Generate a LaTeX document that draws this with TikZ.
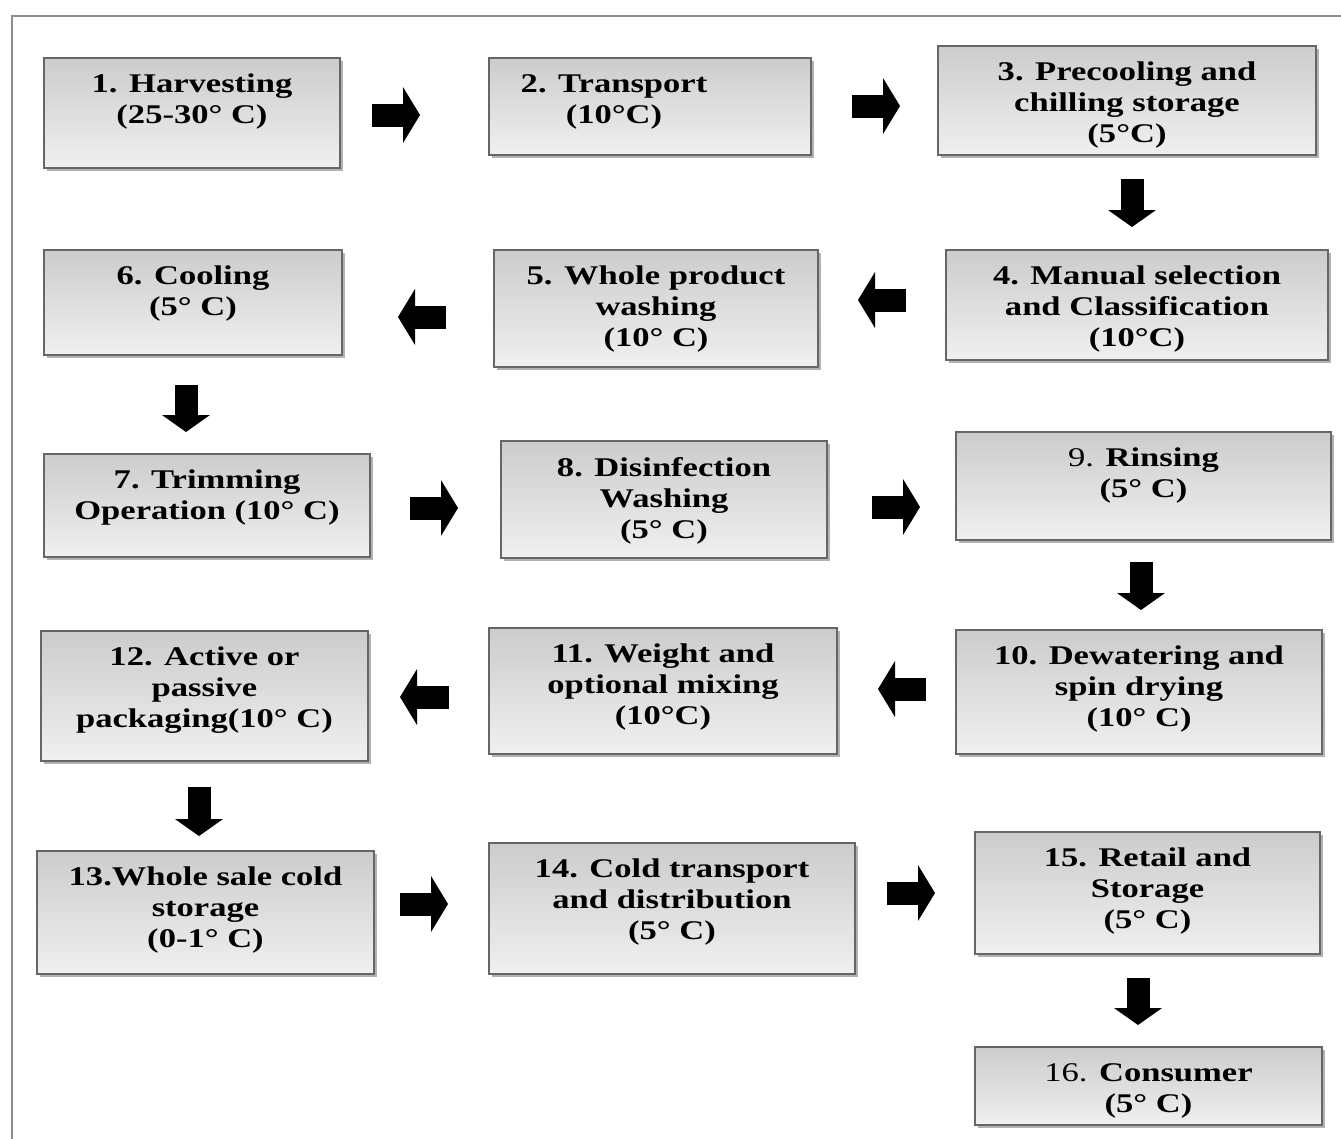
\documentclass[tikz,border=0pt]{standalone}
\usepackage{fontspec}
\setmainfont{Liberation Serif}[FakeStretch=1.28]
\usetikzlibrary{arrows.meta,shadows,calc}
\tikzset{
  boxsty/.style={draw=black!60, line width=1.8pt, top color=black!20, bottom color=black!6,
    inner sep=0pt, outer sep=0pt,
    general shadow={shadow xshift=3pt, shadow yshift=-3pt, fill=black!30}},
  txt/.style={inner sep=0pt, align=center, text=black,
    font=\fontsize{27pt}{31pt}\selectfont\bfseries},
  harrow/.style={draw=black, line width=23pt, -{Triangle[length=17pt,width=56pt,line width=0pt]}},
  varrow/.style={draw=black, line width=23pt, -{Triangle[length=17pt,width=48pt,line width=0pt]}},
  framesty/.style={draw=black!45, line width=1.5pt}
}
\newcommand\flowbox[7][0]{%
  \node[boxsty, minimum width={(#5-#3)*1pt}, minimum height={(#6-#4)*1pt}]
    (b#2) at ({(#3+#5)/2},{(#4+#6)/2}) {};
  \node[txt, anchor=north] (t#2) at ($(b#2.north)+(#1,16)$) {#7};
}
\begin{document}
\begin{tikzpicture}[x=1pt,y=-1pt]
\useasboundingbox (0,0) rectangle (1341,1138);
\fill[white] (0,0) rectangle (1341,1138);
\draw[framesty] (12,1140) -- (12,16) -- (1343,16);

\flowbox{1}{44}{58}{340}{168}{1. Harvesting\\(25-30° C)}
\flowbox[-36]{2}{489}{58}{811}{155}{2. Transport\\(10°C)}
\flowbox{3}{938}{46}{1316}{155}{3. Precooling and\\chilling storage\\(5°C)}
\flowbox{4}{946}{250}{1328}{360}{4. Manual selection\\and Classification\\(10°C)}
\flowbox{5}{494}{250}{818}{367}{5. Whole product\\washing\\(10° C)}
\flowbox{6}{44}{250}{342}{355}{6. Cooling\\(5° C)}
\flowbox{7}{44}{454}{370}{557}{7. Trimming\\Operation (10° C)}
\flowbox{8}{501}{441}{827}{558}{8. Disinfection\\Washing\\(5° C)}
\flowbox{9}{956}{432}{1331}{540}{{\mdseries 9.} Rinsing\\(5° C)}
\flowbox{10}{956}{630}{1322}{754}{10. Dewatering and\\spin drying\\(10° C)}
\flowbox{11}{489}{628}{837}{754}{11. Weight and\\optional mixing\\(10°C)}
\flowbox{12}{41}{631}{368}{761}{12. Active or\\passive\\packaging(10° C)}
\flowbox{13}{37}{851}{374}{974}{13.Whole sale cold\\storage\\(0-1° C)}
\flowbox{14}{489}{843}{855}{974}{14. Cold transport\\and distribution\\(5° C)}
\flowbox{15}{975}{832}{1320}{954}{15. Retail and\\Storage\\(5° C)}
\flowbox{16}{975}{1047}{1322}{1125}{{\mdseries 16.} Consumer\\(5° C)}

% arrow end points
\coordinate (a1s) at (372,115);  \coordinate (a1e) at (420,115);
\coordinate (a2s) at (852,106);  \coordinate (a2e) at (900,106);
\coordinate (a3s) at (1132,179); \coordinate (a3e) at (1132,227);
\coordinate (a4s) at (906,300);  \coordinate (a4e) at (858,300);
\coordinate (a5s) at (446,317);  \coordinate (a5e) at (398,317);
\coordinate (a6s) at (186,385);  \coordinate (a6e) at (186,432);
\coordinate (a7s) at (410,508);  \coordinate (a7e) at (458,508);
\coordinate (a8s) at (872,507);  \coordinate (a8e) at (920,507);
\coordinate (a9s) at (1141,562); \coordinate (a9e) at (1141,610);
\coordinate (a10s) at (926,689); \coordinate (a10e) at (878,689);
\coordinate (a11s) at (449,697); \coordinate (a11e) at (400,697);
\coordinate (a12s) at (199,787); \coordinate (a12e) at (199,836);
\coordinate (a13s) at (400,904); \coordinate (a13e) at (448,904);
\coordinate (a14s) at (887,893); \coordinate (a14e) at (935,893);
\coordinate (a15s) at (1138,978); \coordinate (a15e) at (1138,1025);

\draw[harrow] (a1s) -- (a1e);
\draw[harrow] (a2s) -- (a2e);
\draw[varrow] (a3s) -- (a3e);
\draw[harrow] (a4s) -- (a4e);
\draw[harrow] (a5s) -- (a5e);
\draw[varrow] (a6s) -- (a6e);
\draw[harrow] (a7s) -- (a7e);
\draw[harrow] (a8s) -- (a8e);
\draw[varrow] (a9s) -- (a9e);
\draw[harrow] (a10s) -- (a10e);
\draw[harrow] (a11s) -- (a11e);
\draw[varrow] (a12s) -- (a12e);
\draw[harrow] (a13s) -- (a13e);
\draw[harrow] (a14s) -- (a14e);
\draw[varrow] (a15s) -- (a15e);
\end{tikzpicture}
\end{document}
